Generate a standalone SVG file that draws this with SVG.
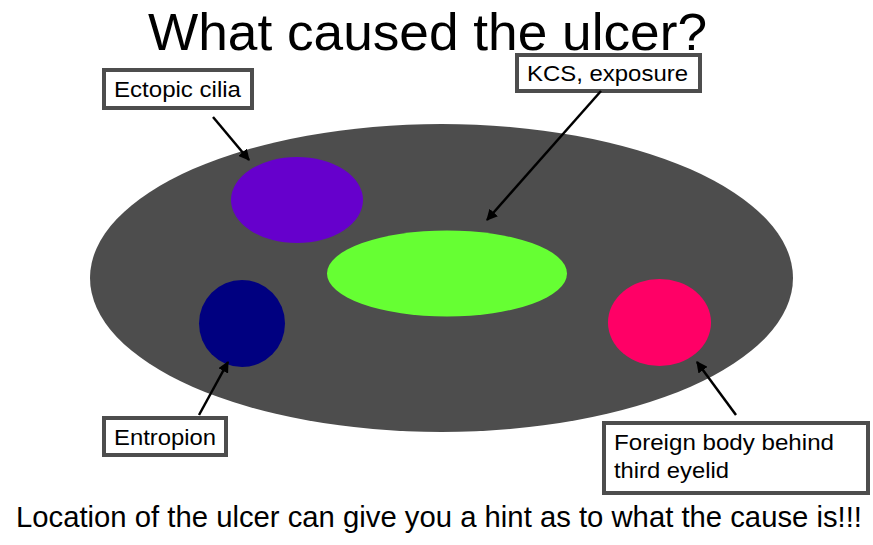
<svg xmlns="http://www.w3.org/2000/svg" width="873" height="545" viewBox="0 0 873 545">
<style>
.lbl{fill:#fff;stroke:#4d4d4d;stroke-width:4}
.t{font-family:"Liberation Sans",Arial,sans-serif;font-size:22.5px;fill:#000}
.con{stroke:#000;stroke-width:2.5;fill:none;marker-end:url(#ah)}
</style>
<defs>
<marker id="ah" viewBox="0 0 10 10" refX="9" refY="5" markerWidth="4.5" markerHeight="4.5" orient="auto" markerUnits="strokeWidth">
<path d="M0,0 L10,5 L0,10 z" fill="#000"/>
</marker>
</defs>
<rect width="873" height="545" fill="#fff"/>
<text x="148" y="50" font-family="Liberation Sans,Arial,sans-serif" font-size="52" fill="#000" textLength="559" lengthAdjust="spacingAndGlyphs">What caused the ulcer?</text>
<g id="eye"><ellipse cx="441.5" cy="278" rx="351.5" ry="154" fill="#4d4d4d"/></g>
<g id="purple"><ellipse cx="297" cy="200" rx="66" ry="43" fill="#6600cc"/></g>
<g id="green"><ellipse cx="447" cy="273.5" rx="120" ry="43" fill="#66ff33"/></g>
<g id="navy"><ellipse cx="242" cy="323.5" rx="43" ry="43.5" fill="#000080"/></g>
<g id="pink"><ellipse cx="659.5" cy="322.5" rx="51.5" ry="43.5" fill="#ff0066"/></g>
<g id="ectopic"><rect class="lbl" x="104" y="70" width="148" height="38"/><text class="t" x="114" y="97" textLength="127" lengthAdjust="spacingAndGlyphs">Ectopic cilia</text></g>
<g id="kcs"><rect class="lbl" x="517" y="55" width="183" height="36"/><text class="t" x="527" y="81" textLength="161" lengthAdjust="spacingAndGlyphs">KCS, exposure</text></g>
<g id="entropion"><rect class="lbl" x="104" y="418" width="122" height="37"/><text class="t" x="114" y="445" textLength="102" lengthAdjust="spacingAndGlyphs">Entropion</text></g>
<g id="foreign"><rect class="lbl" x="604" y="423" width="264" height="70"/><text class="t" x="614" y="450" textLength="220" lengthAdjust="spacingAndGlyphs">Foreign body behind</text><text class="t" x="614" y="478" textLength="115" lengthAdjust="spacingAndGlyphs">third eyelid</text></g>
<g id="connectors">
<line class="con" x1="213" y1="117" x2="249" y2="160"/>
<line class="con" x1="601" y1="91" x2="487" y2="220"/>
<line class="con" x1="199" y1="415" x2="228" y2="362"/>
<line class="con" x1="736" y1="415" x2="697" y2="362"/>
</g>
<text x="16" y="527" font-family="Liberation Sans,Arial,sans-serif" font-size="29" fill="#000" textLength="846" lengthAdjust="spacingAndGlyphs">Location of the ulcer can give you a hint as to what the cause is!!!</text>
</svg>
